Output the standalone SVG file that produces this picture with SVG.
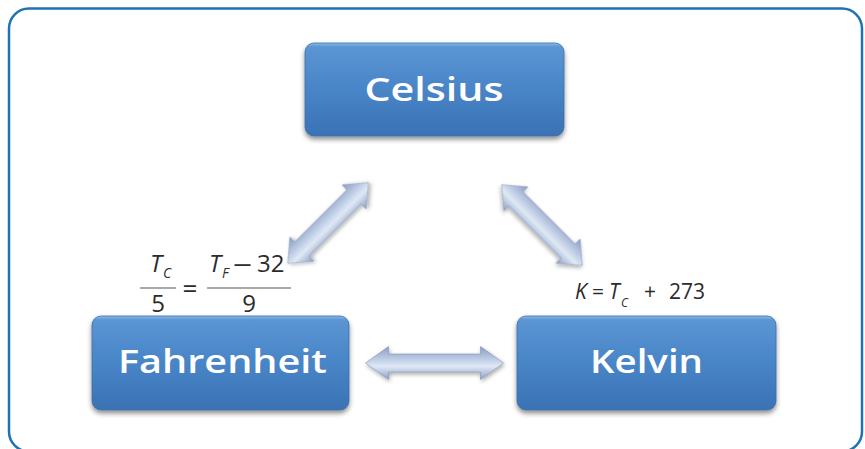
<svg xmlns="http://www.w3.org/2000/svg" width="865" height="449" viewBox="0 0 865 449">
  <defs>
    <linearGradient id="boxGrad" x1="0" y1="0" x2="0" y2="1">
      <stop offset="0" stop-color="#8dbbe8"/>
      <stop offset="0.04" stop-color="#5b95d3"/>
      <stop offset="0.5" stop-color="#4885c7"/>
      <stop offset="1" stop-color="#3a72b4"/>
    </linearGradient>
    <linearGradient id="arrowGrad" x1="0" y1="0" x2="0" y2="1">
      <stop offset="0" stop-color="#8a9ec2"/>
      <stop offset="0.35" stop-color="#b9c8e2"/>
      <stop offset="0.6" stop-color="#dfe8f5"/>
      <stop offset="1" stop-color="#8c9fc2"/>
    </linearGradient>
    <filter id="shadow" x="-10%" y="-10%" width="120%" height="130%">
      <feDropShadow dx="0" dy="3" stdDeviation="2.5" flood-color="#000" flood-opacity="0.45"/>
    </filter>
    <filter id="ashadow" x="-20%" y="-40%" width="140%" height="180%">
      <feDropShadow dx="1" dy="2" stdDeviation="2" flood-color="#000" flood-opacity="0.35"/>
    </filter>
  </defs>
  <style>
    .box { fill: url(#boxGrad); stroke: #3a6fa8; stroke-width: 0.8; filter: url(#shadow); }
    .label { font-family: "Open Sans", "DejaVu Sans", sans-serif; font-size: 32px; font-weight: 600; fill: #ffffff; }
    .arrow { fill: url(#arrowGrad); stroke: #7f93b8; stroke-width: 0.6; filter: url(#ashadow); }
    .eq { font-family: "Open Sans", "DejaVu Sans", sans-serif; fill: #2b2b2b; }
    .it { font-style: italic; }
    .frac { stroke: #555; stroke-width: 1.2; }
  </style>
  <rect x="0" y="0" width="865" height="449" fill="#ffffff"/>
  <rect id="frame" x="9" y="8.5" width="853" height="443" rx="20" ry="20" fill="none" stroke="#1f73b2" stroke-width="2.5"/>

  <g id="connectors">
    <g transform="translate(328,223) rotate(-45)">
      <path class="arrow" d="M-57,0 L-37,-17 L-37,-10 L37,-10 L37,-17 L57,0 L37,17 L37,10 L-37,10 L-37,17 Z"/>
    </g>
    <g transform="translate(542,225) rotate(45)">
      <path class="arrow" d="M-57,0 L-37,-17 L-37,-10 L37,-10 L37,-17 L57,0 L37,17 L37,10 L-37,10 L-37,17 Z"/>
    </g>
    <g transform="translate(434.5,363)">
      <path class="arrow" d="M-69,0 L-46,-16.5 L-46,-9 L46,-9 L46,-16.5 L69,0 L46,16.5 L46,9 L-46,9 L-46,16.5 Z"/>
    </g>
  </g>

  <g id="celsius">
    <rect class="box" x="305" y="43" width="259" height="93" rx="9" ry="9"/>
    <text class="label" x="434" y="101" text-anchor="middle" textLength="139" lengthAdjust="spacingAndGlyphs">Celsius</text>
  </g>
  <g id="fahrenheit">
    <rect class="box" x="92" y="316" width="257" height="94" rx="9" ry="9"/>
    <text class="label" x="222.5" y="373" text-anchor="middle" textLength="209" lengthAdjust="spacingAndGlyphs">Fahrenheit</text>
  </g>
  <g id="kelvin">
    <rect class="box" x="517" y="316" width="259" height="94" rx="9" ry="9"/>
    <text class="label" x="646.5" y="373" text-anchor="middle" textLength="113" lengthAdjust="spacingAndGlyphs">Kelvin</text>
  </g>

  <g id="eq-fahrenheit">
    <text class="eq it" x="150" y="272" font-size="24">T</text>
    <text class="eq it" x="163" y="278" font-size="14">C</text>
    <line class="frac" x1="140" y1="288" x2="176" y2="288"/>
    <text class="eq" x="158" y="312" font-size="24" text-anchor="middle">5</text>
    <text class="eq" x="190" y="298" font-size="26" text-anchor="middle">=</text>
    <text class="eq it" x="209" y="272" font-size="24">T</text>
    <text class="eq it" x="222" y="278" font-size="14">F</text>
    <text class="eq" x="233" y="272" font-size="24" textLength="19" lengthAdjust="spacingAndGlyphs">–</text>
    <text class="eq" x="257" y="272" font-size="24">32</text>
    <line class="frac" x1="207" y1="288" x2="291" y2="288"/>
    <text class="eq" x="249" y="312" font-size="24" text-anchor="middle">9</text>
  </g>

  <g id="eq-kelvin">
    <text class="eq it" x="575" y="299" font-size="21">K</text>
    <text class="eq" x="592" y="299" font-size="21">=</text>
    <text class="eq it" x="609" y="299" font-size="21">T</text>
    <text class="eq it" x="621" y="307" font-size="12">C</text>
    <text class="eq" x="644" y="299" font-size="21">+</text>
    <text class="eq" x="669" y="299" font-size="21">273</text>
  </g>
</svg>
